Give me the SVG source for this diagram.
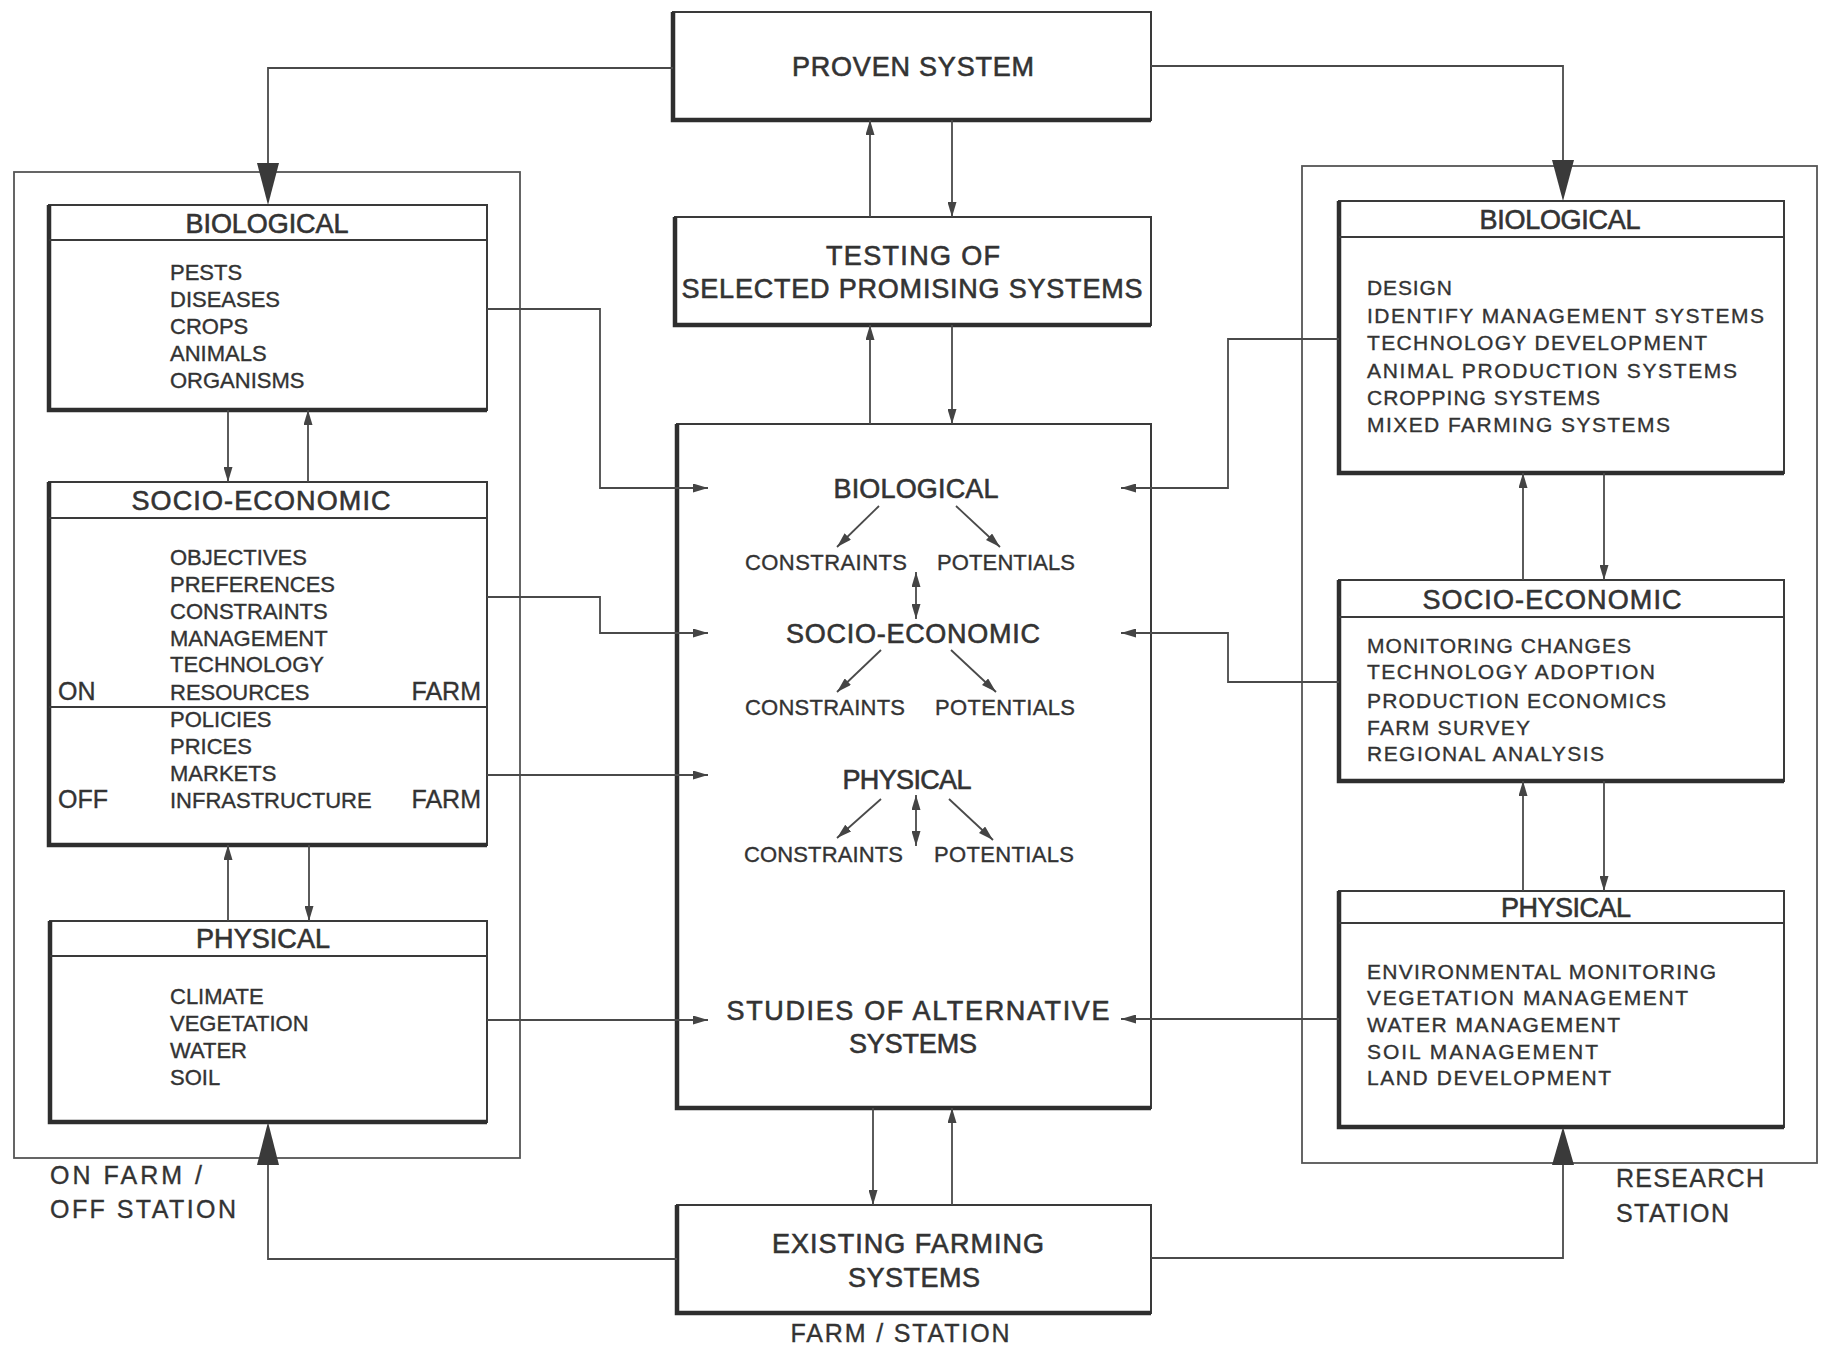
<svg xmlns="http://www.w3.org/2000/svg" width="1825" height="1347" viewBox="0 0 1825 1347">
<style>
.bx{fill:#fff;stroke:#3a3a3a;stroke-width:2}
.sh{fill:none;stroke:#2e2e2e;stroke-width:4.5}
.hd{stroke:#3a3a3a;stroke-width:2}
.fr{fill:none;stroke:#555;stroke-width:1.8}
.ln{fill:none;stroke:#4a4a4a;stroke-width:1.8}
.ar{marker-end:url(#a)}
.da{marker-start:url(#a);marker-end:url(#a)}
.big{fill:#3a3a3a}
text{font-family:"Liberation Sans",Arial,Helvetica,sans-serif;fill:#333;stroke:#333;stroke-width:0.35}
.ti{font-size:27px;stroke-width:0.6}
.it{font-size:22px}
.ri{font-size:21px}
.lb{font-size:25px}
.c{text-anchor:middle}
</style>
<defs>
<marker id="a" markerWidth="15" markerHeight="9" refX="15" refY="4.5" orient="auto-start-reverse" markerUnits="userSpaceOnUse">
<path d="M0,0 L15,4.5 L0,9 z" fill="#444"/>
</marker>
</defs>

<rect width="1825" height="1347" fill="#fff"/>

<!-- outer frames -->
<g id="frame-onfarm">
<rect class="fr" x="14" y="172" width="506" height="986"/>
<text class="lb" x="50" y="1184" textLength="152">ON FARM /</text>
<text class="lb" x="50" y="1218" textLength="186">OFF STATION</text>
</g>
<g id="frame-research">
<rect class="fr" x="1302" y="166" width="515" height="997"/>
<text class="lb" x="1616" y="1187" textLength="148">RESEARCH</text>
<text class="lb" x="1616" y="1222" textLength="113">STATION</text>
</g>

<!-- center column -->
<g id="proven">
<rect class="bx" x="673" y="12" width="478" height="108"/>
<path class="sh" d="M673,12 V120 H1151"/>
<text class="ti c" x="913" y="76" textLength="242">PROVEN SYSTEM</text>
</g>
<g id="testing">
<rect class="bx" x="675" y="217" width="476" height="108"/>
<path class="sh" d="M675,217 V325 H1151"/>
<text class="ti c" x="913" y="265" textLength="174">TESTING OF</text>
<text class="ti c" x="912" y="298" textLength="461">SELECTED PROMISING SYSTEMS</text>
</g>
<g id="studies">
<rect class="bx" x="677" y="424" width="474" height="684"/>
<path class="sh" d="M677,424 V1108 H1151"/>
<text class="ti c" x="916" y="498" textLength="165">BIOLOGICAL</text>
<text class="it" x="745" y="570" textLength="162">CONSTRAINTS</text>
<text class="it" x="937" y="570" textLength="138">POTENTIALS</text>
<text class="ti c" x="913" y="643" textLength="254">SOCIO-ECONOMIC</text>
<text class="it" x="745" y="715" textLength="160">CONSTRAINTS</text>
<text class="it" x="935" y="715" textLength="140">POTENTIALS</text>
<text class="ti c" x="907" y="789" textLength="129">PHYSICAL</text>
<text class="it" x="744" y="862" textLength="159">CONSTRAINTS</text>
<text class="it" x="934" y="862" textLength="140">POTENTIALS</text>
<text class="ti c" x="918" y="1020" textLength="383">STUDIES OF ALTERNATIVE</text>
<text class="ti c" x="913" y="1053" textLength="128">SYSTEMS</text>
</g>
<g id="existing">
<rect class="bx" x="677" y="1205" width="474" height="108"/>
<path class="sh" d="M677,1205 V1313 H1151"/>
<text class="ti c" x="908" y="1253" textLength="272">EXISTING FARMING</text>
<text class="ti c" x="914" y="1287" textLength="132">SYSTEMS</text>
<text class="lb c" x="900" y="1342" textLength="219">FARM / STATION</text>
</g>

<!-- left column -->
<g id="left-biological">
<rect class="bx" x="49" y="205" width="438" height="205"/>
<path class="sh" d="M49,205 V410 H487"/>
<line class="hd" x1="49" y1="240" x2="487" y2="240"/>
<text class="ti c" x="267" y="233" textLength="163">BIOLOGICAL</text>
<text class="it" x="170" y="280">PESTS</text>
<text class="it" x="170" y="307">DISEASES</text>
<text class="it" x="170" y="334">CROPS</text>
<text class="it" x="170" y="361">ANIMALS</text>
<text class="it" x="170" y="388">ORGANISMS</text>
</g>
<g id="left-socio-economic">
<rect class="bx" x="49" y="482" width="438" height="363"/>
<path class="sh" d="M49,482 V845 H487"/>
<line class="hd" x1="49" y1="518" x2="487" y2="518"/>
<line class="hd" x1="49" y1="707" x2="487" y2="707"/>
<text class="ti c" x="261" y="510" textLength="259">SOCIO-ECONOMIC</text>
<text class="it" x="170" y="565">OBJECTIVES</text>
<text class="it" x="170" y="592">PREFERENCES</text>
<text class="it" x="170" y="619">CONSTRAINTS</text>
<text class="it" x="170" y="646">MANAGEMENT</text>
<text class="it" x="170" y="672">TECHNOLOGY</text>
<text class="it" x="170" y="700">RESOURCES</text>
<text class="it" x="170" y="727">POLICIES</text>
<text class="it" x="170" y="754">PRICES</text>
<text class="it" x="170" y="781">MARKETS</text>
<text class="it" x="170" y="808">INFRASTRUCTURE</text>
<text class="lb" x="58" y="700">ON</text>
<text class="lb" x="481" y="700" text-anchor="end">FARM</text>
<text class="lb" x="58" y="808">OFF</text>
<text class="lb" x="481" y="808" text-anchor="end">FARM</text>
</g>
<g id="left-physical">
<rect class="bx" x="50" y="921" width="437" height="201"/>
<path class="sh" d="M50,921 V1122 H487"/>
<line class="hd" x1="50" y1="956" x2="487" y2="956"/>
<text class="ti c" x="263" y="948" textLength="134">PHYSICAL</text>
<text class="it" x="170" y="1004">CLIMATE</text>
<text class="it" x="170" y="1031">VEGETATION</text>
<text class="it" x="170" y="1058">WATER</text>
<text class="it" x="170" y="1085">SOIL</text>
</g>

<!-- right column -->
<g id="right-biological">
<rect class="bx" x="1339" y="201" width="445" height="272"/>
<path class="sh" d="M1339,201 V473 H1784"/>
<line class="hd" x1="1339" y1="237" x2="1784" y2="237"/>
<text class="ti c" x="1560" y="229" textLength="161">BIOLOGICAL</text>
<text class="ri" x="1367" y="295" textLength="85">DESIGN</text>
<text class="ri" x="1367" y="323" textLength="397">IDENTIFY MANAGEMENT SYSTEMS</text>
<text class="ri" x="1367" y="350" textLength="340">TECHNOLOGY DEVELOPMENT</text>
<text class="ri" x="1367" y="378" textLength="370">ANIMAL PRODUCTION SYSTEMS</text>
<text class="ri" x="1367" y="405" textLength="233">CROPPING SYSTEMS</text>
<text class="ri" x="1367" y="432" textLength="303">MIXED FARMING SYSTEMS</text>
</g>
<g id="right-socio-economic">
<rect class="bx" x="1339" y="580" width="445" height="201"/>
<path class="sh" d="M1339,580 V781 H1784"/>
<line class="hd" x1="1339" y1="617" x2="1784" y2="617"/>
<text class="ti c" x="1552" y="609" textLength="259">SOCIO-ECONOMIC</text>
<text class="ri" x="1367" y="653" textLength="264">MONITORING CHANGES</text>
<text class="ri" x="1367" y="679" textLength="288">TECHNOLOGY ADOPTION</text>
<text class="ri" x="1367" y="708" textLength="299">PRODUCTION ECONOMICS</text>
<text class="ri" x="1367" y="735" textLength="163">FARM SURVEY</text>
<text class="ri" x="1367" y="761" textLength="237">REGIONAL ANALYSIS</text>
</g>
<g id="right-physical">
<rect class="bx" x="1339" y="891" width="445" height="236"/>
<path class="sh" d="M1339,891 V1127 H1784"/>
<line class="hd" x1="1339" y1="923" x2="1784" y2="923"/>
<text class="ti c" x="1566" y="917" textLength="130">PHYSICAL</text>
<text class="ri" x="1367" y="979" textLength="349">ENVIRONMENTAL MONITORING</text>
<text class="ri" x="1367" y="1005" textLength="321">VEGETATION MANAGEMENT</text>
<text class="ri" x="1367" y="1032" textLength="253">WATER MANAGEMENT</text>
<text class="ri" x="1367" y="1059" textLength="231">SOIL MANAGEMENT</text>
<text class="ri" x="1367" y="1085" textLength="244">LAND DEVELOPMENT</text>
</g>

<!-- connectors -->
<g id="connectors">
<path class="ln" d="M673,68 H268 V170"/>
<polygon class="big" points="257,163 279,163 268,205"/>
<path class="ln" d="M1151,66 H1563 V165"/>
<polygon class="big" points="1552,160 1574,160 1563,201"/>
<path class="ln" d="M677,1259 H268 V1160"/>
<polygon class="big" points="257,1165 279,1165 268,1122"/>
<path class="ln" d="M1151,1258 H1563 V1160"/>
<polygon class="big" points="1552,1165 1574,1165 1563,1127"/>

<path class="ln ar" d="M870,217 V120"/>
<path class="ln ar" d="M952,120 V217"/>
<path class="ln ar" d="M870,424 V325"/>
<path class="ln ar" d="M952,325 V424"/>
<path class="ln ar" d="M873,1108 V1205"/>
<path class="ln ar" d="M952,1205 V1108"/>

<path class="ln ar" d="M228,410 V482"/>
<path class="ln ar" d="M308,482 V410"/>
<path class="ln ar" d="M228,921 V845"/>
<path class="ln ar" d="M309,845 V921"/>

<path class="ln ar" d="M1523,580 V473"/>
<path class="ln ar" d="M1604,473 V580"/>
<path class="ln ar" d="M1523,891 V781"/>
<path class="ln ar" d="M1604,781 V891"/>

<path class="ln ar" d="M487,309 H600 V488 H708"/>
<path class="ln ar" d="M487,597 H600 V633 H708"/>
<path class="ln ar" d="M487,775 H708"/>
<path class="ln ar" d="M487,1020 H708"/>

<path class="ln ar" d="M1339,339 H1228 V488 H1121"/>
<path class="ln ar" d="M1339,682 H1228 V633 H1121"/>
<path class="ln ar" d="M1339,1019 H1121"/>

<path class="ln ar" d="M879,506 L837,547"/>
<path class="ln ar" d="M956,506 L1000,547"/>
<path class="ln da" d="M916,572 V619"/>
<path class="ln ar" d="M881,799 L837,838"/>
<path class="ln ar" d="M949,799 L993,840"/>
<path class="ln ar" d="M881,650 L837,692"/>
<path class="ln ar" d="M951,650 L996,692"/>
<path class="ln da" d="M916,795 V846"/>
</g>
</svg>
